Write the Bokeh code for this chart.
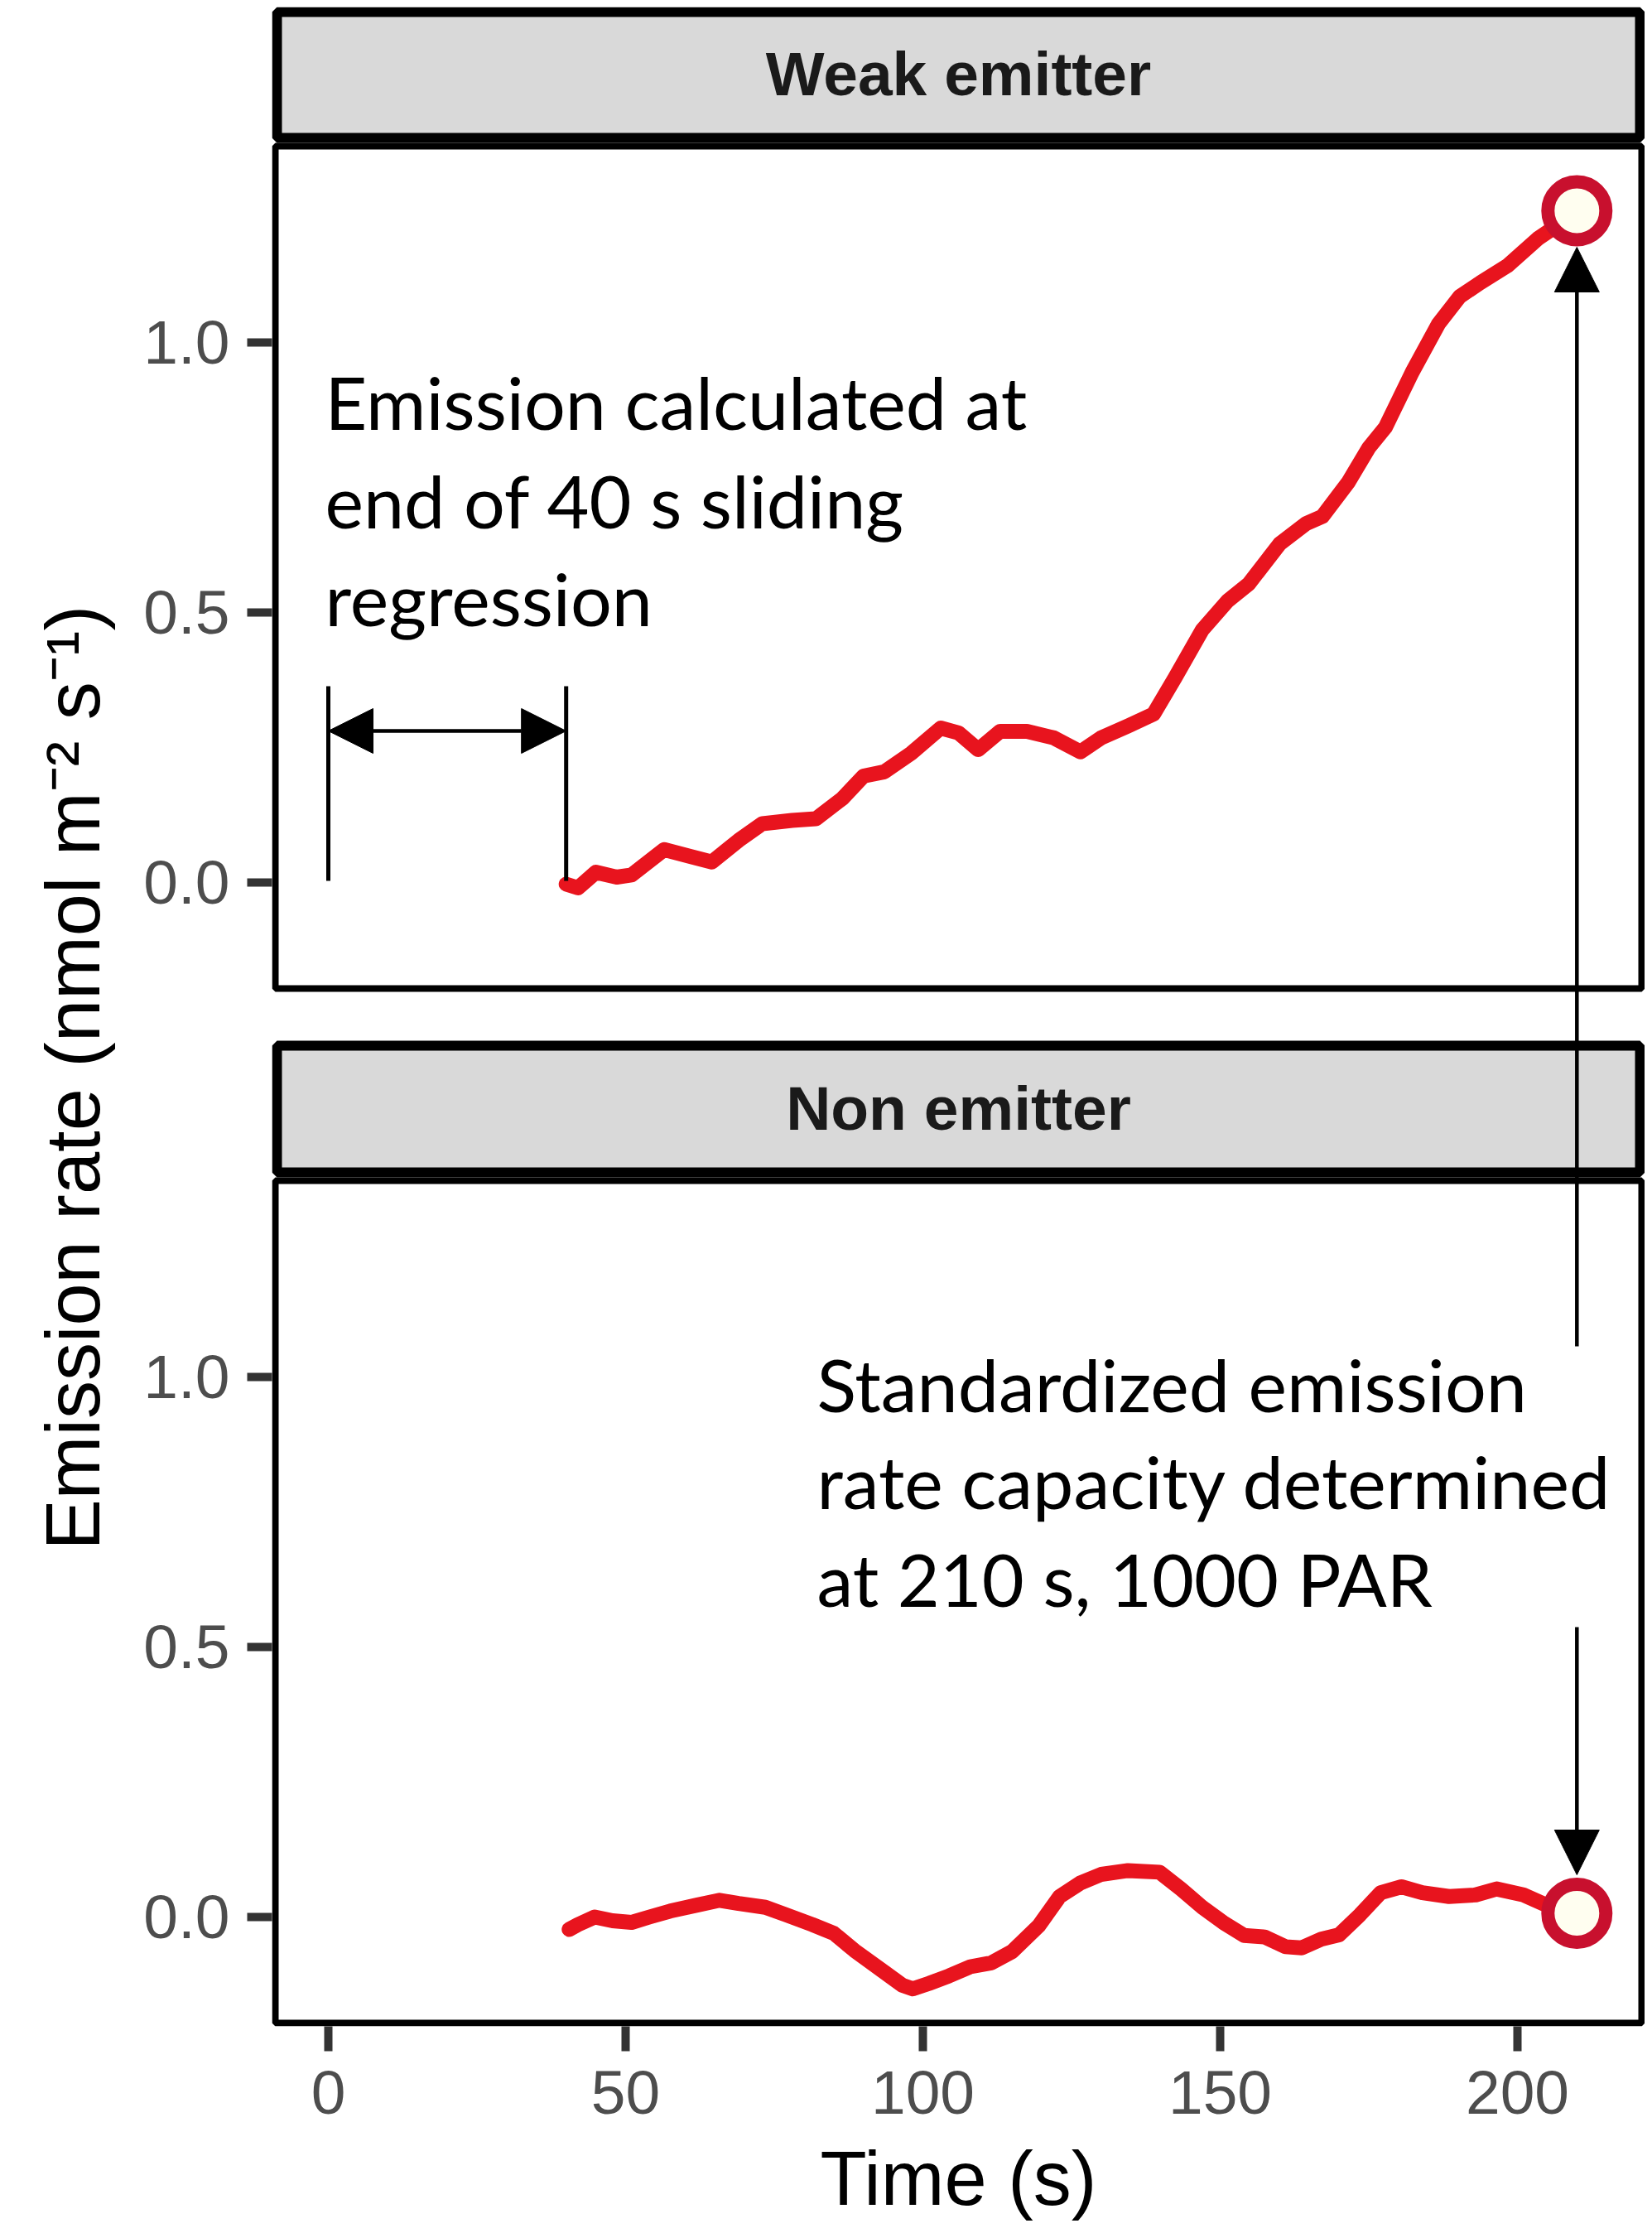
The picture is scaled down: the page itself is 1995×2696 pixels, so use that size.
from bokeh.plotting import figure
from bokeh.models import (Range1d, FixedTicker, CustomJSTickFormatter, Arrow,
                          NormalHead, Title)
from bokeh.core.properties import value
from bokeh.embed import file_html
from bokeh.resources import INLINE

# ---------------- data ----------------
weak_t = [40, 42, 45, 48.5, 51, 56.5, 61, 64.5, 69, 73, 78, 82, 86.5, 90, 93.5,
          98, 103, 106, 109.3, 113, 117.5, 122, 126.5, 130, 134.5, 138.8, 142.4,
          147, 151.3, 154.8, 160, 164.5, 167.2, 171.6, 175, 177.8, 182.3, 186.7,
          190.3, 193.8, 198.3, 203.5, 207, 210]
weak_v = [-0.003, -0.01, 0.019, 0.01, 0.014, 0.061, 0.048, 0.038, 0.078, 0.109,
          0.115, 0.118, 0.156, 0.197, 0.205, 0.239, 0.286, 0.277, 0.246, 0.28,
          0.28, 0.268, 0.242, 0.268, 0.29, 0.312, 0.379, 0.468, 0.522, 0.553,
          0.627, 0.665, 0.678, 0.742, 0.805, 0.843, 0.945, 1.034, 1.085, 1.111,
          1.142, 1.193, 1.219, 1.244]

non_t = [40.5, 42, 44.8, 47.8, 51, 54, 57.5, 62, 65.8, 69, 73.5, 77, 81.4, 85,
         88.5, 93, 96.5, 98.3, 101, 104.4, 108, 111.5, 115, 119.5, 123, 126.5,
         130, 134.5, 139.8, 143.4, 147, 150.5, 154, 157.5, 161, 163.7, 167, 170,
         173.5, 177, 180.5, 184, 188.5, 193, 196.5, 201, 205.3, 210]
non_v = [-0.023, -0.014, 0.0, -0.007, -0.01, 0.0, 0.011, 0.022, 0.031, 0.025,
         0.018, 0.004, -0.014, -0.03, -0.062, -0.098, -0.126, -0.133, -0.123,
         -0.109, -0.092, -0.085, -0.064, -0.016, 0.038, 0.063, 0.079, 0.086,
         0.083, 0.052, 0.018, -0.01, -0.034, -0.037, -0.055, -0.057, -0.041,
         -0.033, 0.004, 0.045, 0.056, 0.045, 0.038, 0.041, 0.052, 0.041, 0.02,
         0.007]

std_t = [210]
std_weak = [1.244]
std_non = [0.007]

panel_names = ["Weak emitter", "Non emitter"]
x_ticks = [0, 50, 100, 150, 200]
y_ticks = [0.0, 0.5, 1.0]
bracket_t = [0, 40]

note_top = ["Emission calculated at", "end of 40 s sliding", "regression"]
note_bot = ["Standardized emission", "rate capacity determined", "at 210 s, 1000 PAR"]

y_title = "Emission rate (nmol m\u207b\u00b2 s\u207b\u00b9)"
x_title = "Time (s)"

# ---------------- layout (page pixels) ----------------
PX0, PXU = 396.0, 7.18           # page x of t=0, px per second
PYT0, PYB0, PYU = 1065.0, 2314.0, 652.0   # page y of 0.0 (top / bottom panel), px per unit
FL, FR, FT, FB = 328, 1986, 8, 2446       # frame edges on the page
OFF = (PYB0 - PYT0) / PYU                  # top panel offset in bottom-panel units
TXT_FIX = 0.38                             # baseline correction, in em

def fx(px):
    return (px - PX0) / PXU

def ft(py):
    return (PYT0 - py) / PYU

def fb(py):
    return (PYB0 - py) / PYU

p = figure(frame_width=FR - FL, frame_height=FB - FT,
           min_border_left=FL, min_border_right=0, min_border_top=FT,
           min_border_bottom=2690 - FB,
           x_range=Range1d(fx(FL), fx(FR)), y_range=Range1d(fb(FB), fb(FT)),
           output_backend="svg", toolbar_location=None, title=None)
p.extra_y_ranges = {"top": Range1d(ft(FB), ft(FT))}
p.xgrid.visible = False
p.ygrid.visible = False
p.outline_line_color = None
p.background_fill_color = "white"
p.border_fill_color = "white"

# axes
for ax in (p.xaxis[0], p.yaxis[0]):
    ax.axis_line_color = None
    ax.major_tick_line_color = "#333333"
    ax.major_tick_line_width = 10
    ax.major_tick_out = 30
    ax.major_tick_in = 0
    ax.minor_tick_line_color = None
    ax.major_label_text_font = "Liberation Sans"
    ax.major_label_text_font_size = "75px"
    ax.major_label_text_color = "#4d4d4d"

p.xaxis.ticker = FixedTicker(ticks=x_ticks)
p.xaxis.major_label_standoff = 24
p.xaxis.axis_label = x_title
p.xaxis.axis_label_text_font = "Liberation Sans"
p.xaxis.axis_label_text_font_size = "92px"
p.xaxis.axis_label_text_font_style = "normal"
p.xaxis.axis_label_text_color = "black"
p.xaxis.axis_label_standoff = 24

p.yaxis.ticker = FixedTicker(ticks=y_ticks + [t + OFF for t in y_ticks])
p.yaxis.formatter = CustomJSTickFormatter(args=dict(off=OFF), code="""
    const v = tick > 1.5 ? tick - off : tick;
    return v.toFixed(1);
""")
p.yaxis.major_label_standoff = 21

# y axis title (placed over both panels)
p.add_layout(Title(text=y_title, align="left", vertical_align="top", offset=575,
                   standoff=60, text_font="Liberation Sans", text_font_size="92px",
                   text_font_style="normal", text_color="black"), "left")

# strips and panel frames
p.quad(left=[fx(334)], right=[fx(1980)], top=[ft(14)], bottom=[ft(166)],
       fill_color="#d9d9d9", line_color="black", line_width=12, y_range_name="top")
p.quad(left=[fx(332)], right=[fx(1982)], top=[ft(176)], bottom=[ft(1193)],
       fill_color="white", line_color="black", line_width=8, y_range_name="top")
p.quad(left=[fx(334)], right=[fx(1980)], top=[fb(1262)], bottom=[fb(1415)],
       fill_color="#d9d9d9", line_color="black", line_width=12)
p.quad(left=[fx(332)], right=[fx(1982)], top=[fb(1425)], bottom=[fb(2442)],
       fill_color="white", line_color="black", line_width=8)

SF = 75
strip_font = dict(text_font=value("Liberation Sans"), text_font_style="bold",
                  text_font_size=f"{SF}px", text_color="#1a1a1a",
                  text_align="center", text_baseline="alphabetic")
p.text(x=[fx(1157)], y=[ft(117 - TXT_FIX * SF)], text=[panel_names[0]],
       y_range_name="top", **strip_font)
p.text(x=[fx(1157)], y=[fb(1366 - TXT_FIX * SF)], text=[panel_names[1]], **strip_font)

# data
red = "#e8141e"
p.line(weak_t, weak_v, line_color=red, line_width=18, line_join="round",
       line_cap="round", y_range_name="top")
p.line(non_t, non_v, line_color=red, line_width=18, line_join="round",
       line_cap="round")
mk = dict(size=70, fill_color="#fffef0", line_color="#c8102e", line_width=16)
p.scatter(std_t, std_weak, y_range_name="top", **mk)
p.scatter(std_t, std_non, **mk)

# annotations
NF = 88
note_font = dict(text_font=value("Lato"), text_font_size=f"{NF}px", text_color="black",
                 text_align="left", text_baseline="alphabetic")
d = TXT_FIX * NF
p.text(x=[fx(392)] * 3, y=[ft(518 - d), ft(637 - d), ft(755 - d)], text=note_top,
       y_range_name="top", **note_font)
p.text(x=[fx(986)] * 3, y=[fb(1704 - d), fb(1821 - d), fb(1939 - d)], text=note_bot,
       **note_font)

p.segment(x0=bracket_t, x1=bracket_t, y0=[ft(1063)] * 2, y1=[ft(828)] * 2,
          line_color="black", line_width=5, y_range_name="top")

def head():
    return NormalHead(size=54, fill_color="black", line_color="black", line_width=1)

p.add_layout(Arrow(start=head(), end=head(), x_start=bracket_t[0], x_end=bracket_t[1],
                   y_start=ft(882), y_end=ft(882), line_width=4.5, y_range_name="top"))
p.add_layout(Arrow(end=head(), x_start=std_t[0], x_end=std_t[0],
                   y_start=ft(1625), y_end=ft(298), line_width=4.5, y_range_name="top"))
p.add_layout(Arrow(end=head(), x_start=std_t[0], x_end=std_t[0],
                   y_start=fb(1964), y_end=fb(2263), line_width=4.5))

open("out.html", "w").write(file_html(p, INLINE))
